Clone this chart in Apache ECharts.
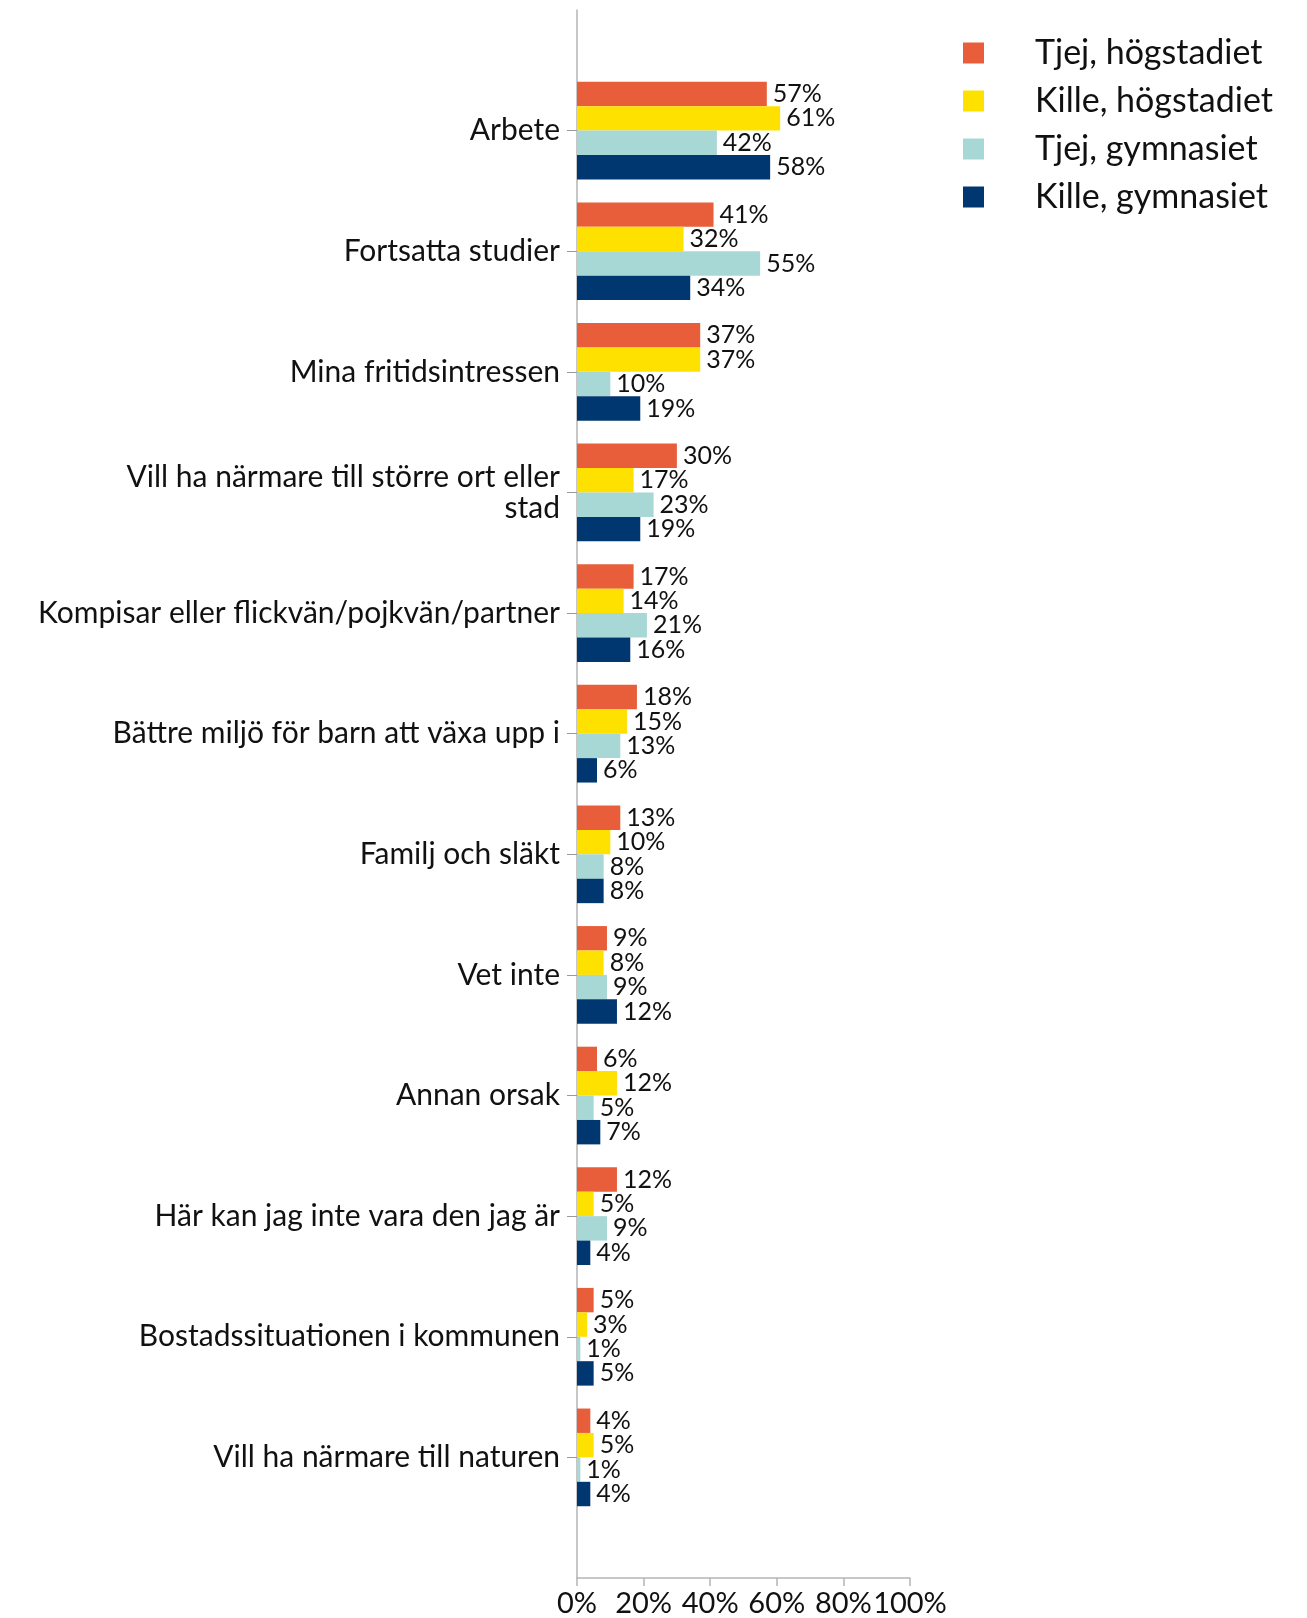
<!DOCTYPE html>
<html><head><meta charset="utf-8">
<script src="https://cdn.jsdelivr.net/npm/echarts@6/dist/echarts.min.js"></script>
<style>html,body{margin:0;padding:0;background:#fff}#c{width:1307px;height:1618px}</style>
</head><body><div id="c"></div>
<script>
const categories = [
  'Arbete',
  'Fortsatta studier',
  'Mina fritidsintressen',
  'Vill ha närmare till större ort eller\nstad',
  'Kompisar eller flickvän/pojkvän/partner',
  'Bättre miljö för barn att växa upp i',
  'Familj och släkt',
  'Vet inte',
  'Annan orsak',
  'Här kan jag inte vara den jag är',
  'Bostadssituationen i kommunen',
  'Vill ha närmare till naturen'
];
const seriesNames = ['Tjej, högstadiet', 'Kille, högstadiet', 'Tjej, gymnasiet', 'Kille, gymnasiet'];
const tjejHog  = [57, 41, 37, 30, 17, 18, 13, 9, 6, 12, 5, 4];
const killeHog = [61, 32, 37, 17, 14, 15, 10, 8, 12, 5, 3, 5];
const tjejGym  = [42, 55, 10, 23, 21, 13, 8, 9, 5, 9, 1, 1];
const killeGym = [58, 34, 19, 19, 16, 6, 8, 12, 7, 4, 5, 4];
const xTicks = [0, 20, 40, 60, 80, 100];
const colors = ['#E95E3A', '#FFE100', '#A7D8D5', '#003770'];

const FONT = 'Lato';
const pad = a => [null].concat(a, [null]);
const yCats = [''].concat(categories, ['']);
const allData = [tjejHog, killeHog, tjejGym, killeGym];

const chart = echarts.init(document.getElementById('c'));
chart.setOption({
  animation: false,
  textStyle: { fontFamily: FONT },
  legend: {
    orient: 'vertical',
    left: 958,
    top: 31,
    itemWidth: 21,
    itemHeight: 21,
    itemGap: 14,
    icon: 'rect',
    textStyle: { fontFamily: FONT, fontSize: 34, color: '#111', padding: [0, 0, 0, 46], lineHeight: 33 },
    data: seriesNames
  },
  grid: { left: 577, right: 397, top: 10, bottom: 40, containLabel: false },
  xAxis: {
    type: 'value',
    min: 0, max: 100, interval: 20,
    axisLine: { show: true, lineStyle: { color: '#b5b5b5', width: 1.5 } },
    axisTick: { show: true, length: 8, lineStyle: { color: '#b5b5b5', width: 1.5 } },
    splitLine: { show: false },
    axisLabel: {
      fontFamily: FONT, fontSize: 29, color: '#111', margin: 11,
      formatter: v => xTicks.indexOf(v) >= 0 ? v + '%' : ''
    }
  },
  yAxis: {
    type: 'category',
    inverse: true,
    boundaryGap: false,
    data: yCats,
    axisLine: { show: true, lineStyle: { color: '#b5b5b5', width: 1.5 } },
    axisTick: { show: true, length: 10, interval: (i) => i > 0 && i < yCats.length - 1, lineStyle: { color: '#999', width: 1 } },
    axisLabel: {
      interval: 0, fontFamily: FONT, fontSize: 30, color: '#111', margin: 17, lineHeight: 31, align: 'right'
    }
  },
  series: seriesNames.map((n, i) => ({
    name: n,
    type: 'bar',
    data: pad(allData[i]),
    barGap: '0%',
    barCategoryGap: '19%',
    itemStyle: { color: colors[i] },
    label: {
      show: true, position: 'right', distance: 6,
      fontFamily: FONT, fontSize: 25, color: '#111',
      formatter: p => p.value == null ? '' : p.value + '%'
    }
  }))
});
</script></body></html>
